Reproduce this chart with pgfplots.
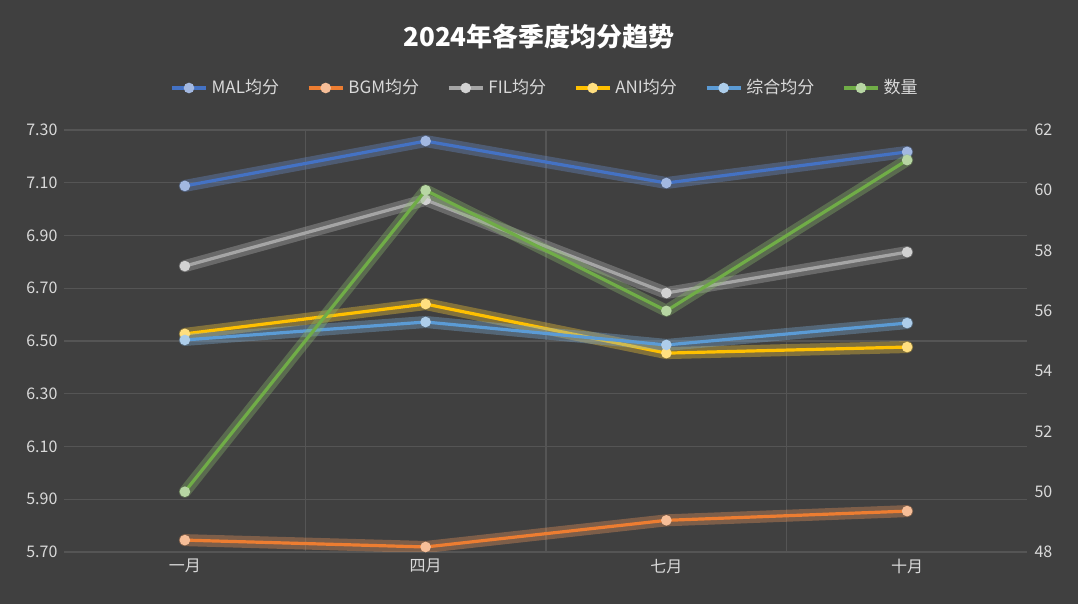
\documentclass[border=0pt]{standalone}
\usepackage{pgfplots}
\pgfplotsset{compat=1.18}
\usepackage{fontspec}
\setmainfont{Noto Sans CJK SC}
\definecolor{bg}{HTML}{404040}
\definecolor{gridc}{HTML}{555555}
\definecolor{tickc}{HTML}{D9D9D9}
\definecolor{cMAL}{HTML}{4472C4}
\definecolor{cBGM}{HTML}{ED7D31}
\definecolor{cFIL}{HTML}{A5A5A5}
\definecolor{cANI}{HTML}{FFC000}
\definecolor{cALL}{HTML}{5B9BD5}
\definecolor{cNUM}{HTML}{70AD47}
\pgfplotsset{
 base/.style={scale only axis, width=481.5pt, height=211pt, at={(32.25pt,26pt)}, anchor=south west,
  xmin=-0.5, xmax=3.5, axis line style={draw=none}, major tick length=0pt,
  tick label style={font=\fontsize{8}{9}\selectfont, text=tickc},
  /pgf/number format/assume math mode=true},
 ser/.style={color=#1, line width=1.6pt, mark=*, mark size=1.8pt, mark options={fill=#1!50!white, draw=#1!50!white}},
 glow/.style={color=#1!80!white, line width=6pt, opacity=0.35, forget plot, line join=round, line cap=round},
}
\begin{document}
\begin{tikzpicture}
\fill[bg] (0,0) rectangle (539pt,302pt);
\node[text=white, font=\fontsize{13}{15}\selectfont\bfseries] at (269.5pt,283.5pt) {2024年各季度均分趋势};
\begin{axis}[base, ymin=5.7, ymax=7.3, ytick={5.7,5.9,...,7.31},
 yticklabel style={/pgf/number format/fixed, /pgf/number format/fixed zerofill, /pgf/number format/precision=2},
 xtick={0,1,2,3}, xticklabels={一月,四月,七月,十月},
 ymajorgrids, grid style={gridc, line width=0.6pt}]
\draw[gridc, line width=0.6pt] (axis cs:0.5,5.7)--(axis cs:0.5,7.3) (axis cs:1.5,5.7)--(axis cs:1.5,7.3) (axis cs:2.5,5.7)--(axis cs:2.5,7.3);
\addplot[glow=cMAL] coordinates {(0,7.088)(1,7.258)(2,7.099)(3,7.217)};
\addplot[ser=cMAL] coordinates {(0,7.088)(1,7.258)(2,7.099)(3,7.217)};
\addplot[glow=cBGM] coordinates {(0,5.745)(1,5.719)(2,5.82)(3,5.855)};
\addplot[ser=cBGM] coordinates {(0,5.745)(1,5.719)(2,5.82)(3,5.855)};
\addplot[glow=cFIL] coordinates {(0,6.784)(1,7.035)(2,6.682)(3,6.837)};
\addplot[ser=cFIL] coordinates {(0,6.784)(1,7.035)(2,6.682)(3,6.837)};
\addplot[glow=cANI] coordinates {(0,6.527)(1,6.640)(2,6.454)(3,6.477)};
\addplot[ser=cANI] coordinates {(0,6.527)(1,6.640)(2,6.454)(3,6.477)};
\addplot[glow=cALL] coordinates {(0,6.504)(1,6.572)(2,6.485)(3,6.568)};
\addplot[ser=cALL] coordinates {(0,6.504)(1,6.572)(2,6.485)(3,6.568)};
\end{axis}
\begin{axis}[base, ymin=48, ymax=62, ytick={48,50,...,62}, axis y line*=right, axis x line=none,
 legend columns=6, legend style={at={(0.5,1.0995)}, anchor=center, draw=none, fill=none, text=tickc,
  font=\fontsize{8.5}{10}\selectfont, /tikz/every even column/.append style={column sep=12pt}},
 legend image code/.code={\draw[#1, mark repeat=2, mark phase=2] plot coordinates {(0cm,0cm)(0.3cm,0cm)(0.6cm,0cm)};}]
\addlegendimage{ser=cMAL}\addlegendentry{MAL均分}
\addlegendimage{ser=cBGM}\addlegendentry{BGM均分}
\addlegendimage{ser=cFIL}\addlegendentry{FIL均分}
\addlegendimage{ser=cANI}\addlegendentry{ANI均分}
\addlegendimage{ser=cALL}\addlegendentry{综合均分}
\addplot[glow=cNUM] coordinates {(0,50)(1,60)(2,56)(3,61)};
\addplot[ser=cNUM] coordinates {(0,50)(1,60)(2,56)(3,61)};
\addlegendentry{数量}
\end{axis}
\end{tikzpicture}
\end{document}
